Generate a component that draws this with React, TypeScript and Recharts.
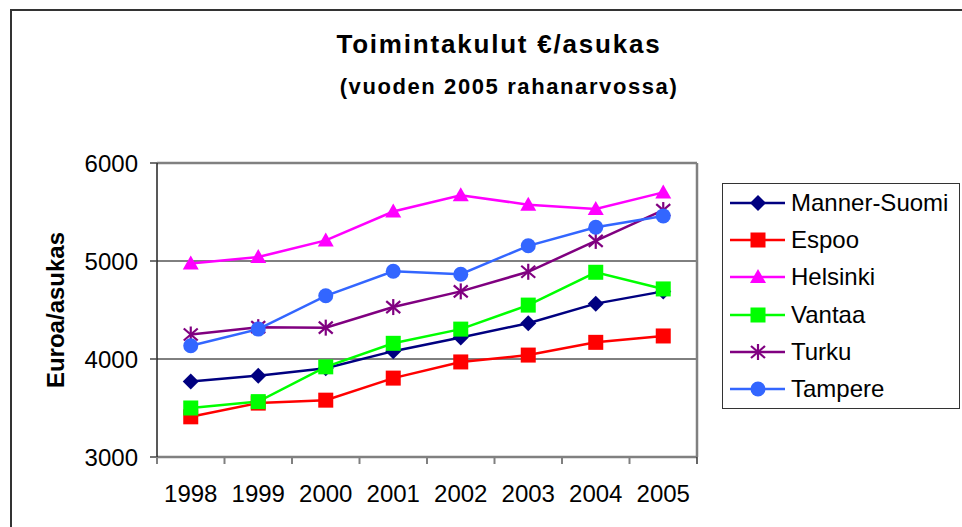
import { CartesianGrid, Legend, Line, LineChart, XAxis, YAxis } from "recharts";

const years = ["1998", "1999", "2000", "2001", "2002", "2003", "2004", "2005"];
const mannerSuomi = [3770, 3830, 3905, 4080, 4220, 4365, 4565, 4690];
const espoo = [3410, 3550, 3580, 3805, 3970, 4040, 4170, 4235];
const helsinki = [4975, 5040, 5210, 5505, 5670, 5575, 5530, 5700];
const vantaa = [3500, 3565, 3920, 4160, 4305, 4550, 4885, 4715];
const turku = [4250, 4325, 4320, 4530, 4690, 4890, 5205, 5520];
const tampere = [4135, 4305, 4645, 4895, 4865, 5155, 5345, 5460];
const yTicks = [3000, 4000, 5000, 6000];

const series = [
  { key: "mannerSuomi", name: "Manner-Suomi", color: "#000080", marker: "diamond", values: mannerSuomi },
  { key: "espoo", name: "Espoo", color: "#ff0000", marker: "square", values: espoo },
  { key: "helsinki", name: "Helsinki", color: "#ff00ff", marker: "triangle", values: helsinki },
  { key: "vantaa", name: "Vantaa", color: "#00ff00", marker: "square", values: vantaa },
  { key: "turku", name: "Turku", color: "#800080", marker: "star", values: turku },
  { key: "tampere", name: "Tampere", color: "#3366ff", marker: "circle", values: tampere },
];

const data = years.map((year, i) => {
  const row: any = { year };
  series.forEach((s) => (row[s.key] = s.values[i]));
  return row;
});

const FONT = "Arial, 'Liberation Sans', sans-serif";

const drawMarker = (marker: string, color: string, cx: number, cy: number, key?: any) => {
  switch (marker) {
    case "diamond":
      return <path key={key} d={`M${cx},${cy - 8}L${cx + 8},${cy}L${cx},${cy + 8}L${cx - 8},${cy}Z`} fill={color} />;
    case "square":
      return <rect key={key} x={cx - 7.5} y={cy - 7.5} width={15} height={15} fill={color} />;
    case "triangle":
      return <path key={key} d={`M${cx},${cy - 8}L${cx + 8},${cy + 6}L${cx - 8},${cy + 6}Z`} fill={color} />;
    case "star":
      return (
        <g key={key} stroke={color} strokeWidth={2.2}>
          <line x1={cx} y1={cy - 8} x2={cx} y2={cy + 8} />
          <line x1={cx - 7} y1={cy - 6} x2={cx + 7} y2={cy + 6} />
          <line x1={cx - 7} y1={cy + 6} x2={cx + 7} y2={cy - 6} />
        </g>
      );
    default:
      return <circle key={key} cx={cx} cy={cy} r={7.5} fill={color} />;
  }
};

const XTick = (props: any) => {
  const { x, y, payload, index, visibleTicksCount, width } = props;
  const half = payload.offset || (width && visibleTicksCount ? width / visibleTicksCount / 2 : 33.75);
  const axisY = y - 28;
  return (
    <g>
      <line x1={x - half} y1={axisY} x2={x - half} y2={axisY + 7} stroke="#808080" strokeWidth={2} />
      {index === visibleTicksCount - 1 && (
        <line x1={x + half} y1={axisY} x2={x + half} y2={axisY + 7} stroke="#333" strokeWidth={1.5} />
      )}
      <text x={x} y={y} dy="0.71em" textAnchor="middle" fontSize={24} fontFamily={FONT} fill="#000">
        {payload.value}
      </text>
    </g>
  );
};

const renderLegend = (props: any) => {
  const items = [...(props.payload || [])].sort(
    (a: any, b: any) =>
      series.findIndex((s) => s.name === a.value) - series.findIndex((s) => s.name === b.value)
  );
  return (
    <div
      style={{
        width: 238,
        height: 226,
        border: "1.5px solid #333",
        background: "#fff",
        boxSizing: "border-box",
        fontFamily: FONT,
        fontSize: 24,
        color: "#000",
      }}
    >
      {items.map((item: any) => {
        const s = series.find((d) => d.name === item.value)!;
        return (
          <div key={item.value} style={{ display: "flex", alignItems: "center", height: 37.3 }}>
            <svg width={68} height={24} style={{ flex: "none" }}>
              <line x1={7} y1={12} x2={62} y2={12} stroke={s.color} strokeWidth={2.5} />
              {drawMarker(s.marker, s.color, 35, 12)}
            </svg>
            <span style={{ whiteSpace: "nowrap" }}>{item.value}</span>
          </div>
        );
      })}
    </div>
  );
};

export default function App() {
  return (
    <div
      style={{
        position: "fixed",
        left: 0,
        top: 0,
        width: 962,
        height: 527,
        overflow: "hidden",
        background: "#fff",
        fontFamily: FONT,
      }}
    >
      <div
        style={{
          position: "absolute",
          left: 10,
          top: 9,
          width: 1000,
          height: 600,
          borderTop: "2.5px solid #333",
          borderLeft: "2.5px solid #333",
        }}
      />
      <svg width={962} height={120} style={{ position: "absolute", left: 0, top: 0 }}>
        <text x={499} y={53} textAnchor="middle" fontSize={26} fontWeight="bold" letterSpacing={1.8} fontFamily={FONT}>
          Toimintakulut €/asukas
        </text>
        <text x={509} y={94} textAnchor="middle" fontSize={22} fontWeight="bold" letterSpacing={1.6} fontFamily={FONT}>
          (vuoden 2005 rahanarvossa)
        </text>
      </svg>
      <div style={{ position: "absolute", left: 0, top: 0 }}>
        <LineChart width={962} height={527} data={data} margin={{ top: 163, right: 265, bottom: 30, left: 0 }}>
          <CartesianGrid horizontal={true} vertical={false} stroke="#000" strokeWidth={1} />
          <CartesianGrid
            horizontalCoordinatesGenerator={({ offset }: any) => [offset.top]}
            verticalCoordinatesGenerator={({ offset }: any) => [offset.left + offset.width]}
            stroke="#808080"
            strokeWidth={2.5}
          />
          <XAxis
            dataKey="year"
            scale="band"
            height={40}
            tickLine={false}
            tickSize={0}
            tickMargin={28}
            axisLine={{ stroke: "#808080", strokeWidth: 2.5 }}
            tick={<XTick />}
            interval={0}
          />
          <YAxis
            width={157}
            domain={[3000, 6000]}
            ticks={yTicks}
            tickSize={7}
            tickMargin={12}
            axisLine={{ stroke: "#222", strokeWidth: 1.5 }}
            tickLine={{ stroke: "#444", strokeWidth: 1.5 }}
            tick={{ fontSize: 24, fill: "#000", fontFamily: FONT }}
            label={{
              content: (p: any) => {
                const vb = p.viewBox;
                const cx = vb.x + 55;
                const cy = 163 + 147;
                return (
                  <text
                    x={cx}
                    y={cy}
                    transform={`rotate(-90, ${cx}, ${cy})`}
                    textAnchor="middle"
                    dominantBaseline="central"
                    fontSize={24}
                    fontWeight="bold"
                    fontFamily={FONT}
                    fill="#000"
                  >
                    Euroa/asukas
                  </text>
                );
              },
            }}
          />
          <Legend
            layout="horizontal"
            verticalAlign="middle"
            align="center"
            content={renderLegend}
            wrapperStyle={{ position: "absolute", left: 722, top: 183, width: 238, height: 226 }}
          />
          {series.map((s) => (
            <Line
              key={s.key}
              dataKey={s.key}
              name={s.name}
              stroke={s.color}
              strokeWidth={2.5}
              isAnimationActive={false}
              dot={(p: any) => drawMarker(s.marker, s.color, p.cx, p.cy, `${s.key}-${p.index}`)}
              activeDot={false}
            />
          ))}
        </LineChart>
      </div>
    </div>
  );
}
